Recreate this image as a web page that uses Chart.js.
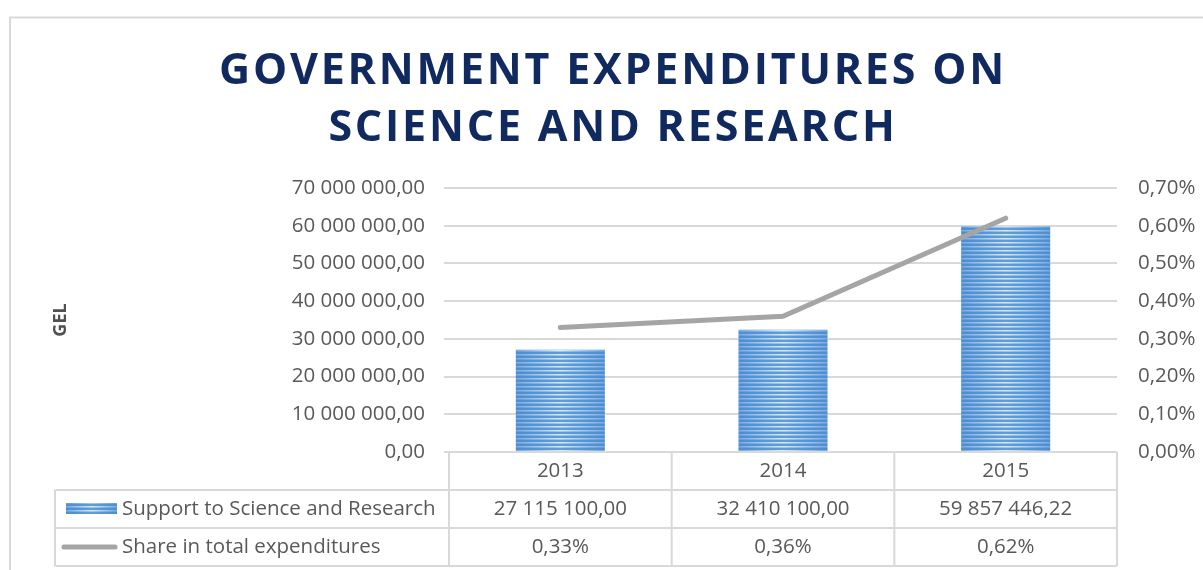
<!DOCTYPE html>
<html>
<head>
<meta charset="utf-8">
<script src="https://cdn.jsdelivr.net/npm/chart.js@4/dist/chart.umd.min.js"></script>
<style>
  html, body { margin: 0; padding: 0; background: #fff; }
</style>
</head>
<body>
<canvas id="chart" width="1203" height="570"></canvas>
<script>
// data
const years = ['2013', '2014', '2015'];
const support = [27115100.00, 32410100.00, 59857446.22];
const share = [0.33, 0.36, 0.62];
const seriesNames = ['Support to Science and Research', 'Share in total expenditures'];
const titleLines = ['GOVERNMENT EXPENDITURES ON', 'SCIENCE AND RESEARCH'];

const textColor = '#595959';
const gridColor = '#d9d9d9';
const fontFamily = '"Open Sans", "Liberation Sans", sans-serif';

function fmtGel(v) {
    const parts = Number(v).toFixed(2).split('.');
    return parts[0].replace(/\B(?=(\d{3})+(?!\d))/g, ' ') + ',' + parts[1];
}
function fmtPct(v) {
    return Number(v).toFixed(2).replace('.', ',') + '%';
}

// striped fill like the excel bars, lighter in the middle
function stripePattern(ctx, w, left) {
    const c = document.createElement('canvas');
    c.width = Math.max(1, Math.round(w));
    c.height = 4;
    const g = c.getContext('2d');
    for (let px = 0; px < c.width; px++) {
        const t = Math.min(1, Math.abs(px + 0.5 - c.width / 2) / (c.width / 2));
        const mix = (a, b) => Math.round(a + (b - a) * t);
        g.fillStyle = 'rgb(' + mix(95, 78) + ',' + mix(158, 142) + ',' + mix(216, 208) + ')';
        g.fillRect(px, 0, 1, 2);
        g.fillStyle = 'rgb(' + mix(218, 120) + ',' + mix(234, 170) + ',' + mix(249, 224) + ')';
        g.fillRect(px, 2, 1, 1);
        g.fillStyle = 'rgb(' + mix(160, 100) + ',' + mix(198, 156) + ',' + mix(238, 216) + ')';
        g.fillRect(px, 3, 1, 1);
    }
    const p = ctx.createPattern(c, 'repeat');
    p.setTransform(new DOMMatrix([1, 0, 0, 1, left, 0]));
    return p;
}

function barFill(context) {
    const chart = context.chart;
    const xs = chart.scales && chart.scales.x;
    if (!xs || !chart.chartArea || context.dataIndex === undefined) return '#7fb0e0';
    const cw = chart.chartArea.width / years.length;
    const w = cw * 0.8 * 0.5;
    const left = xs.getPixelForValue(context.dataIndex) - w / 2;
    return stripePattern(chart.ctx, w, left);
}

const framePlugin = {
    id: 'frame',
    beforeDraw(chart) {
        const ctx = chart.ctx;
        ctx.save();
        ctx.fillStyle = '#fff';
        ctx.fillRect(0, 0, chart.width, chart.height);
        ctx.strokeStyle = '#d9d9d9';
        ctx.lineWidth = 2;
        ctx.strokeRect(10, 17.5, chart.width + 50, chart.height + 50);

        // spaced-out title, centred over the frame
        ctx.fillStyle = '#10295e';
        ctx.font = 'bold 43px ' + fontFamily;
        ctx.textAlign = 'center';
        ctx.textBaseline = 'middle';
        if ('letterSpacing' in ctx) ctx.letterSpacing = '2.8px';
        ctx.fillText(titleLines[0], 613, 72);
        ctx.fillText(titleLines[1], 613, 129);
        ctx.restore();
    }
};

// excel style data table under the plot
const tablePlugin = {
    id: 'dataTable',
    afterDraw(chart) {
        const ctx = chart.ctx;
        const area = chart.chartArea;
        const xs = chart.scales.x;
        const cw = area.width / years.length;
        const rowH = 38;
        const top = area.bottom;
        const labelLeft = 55;

        ctx.save();
        ctx.strokeStyle = gridColor;
        ctx.lineWidth = 2;
        ctx.beginPath();
        ctx.moveTo(area.left, top); ctx.lineTo(area.right, top);
        for (let r = 1; r <= 3; r++) {
            ctx.moveTo(labelLeft, top + r * rowH);
            ctx.lineTo(area.right, top + r * rowH);
        }
        ctx.moveTo(labelLeft, top + rowH); ctx.lineTo(labelLeft, top + 3 * rowH);
        for (let i = 0; i <= years.length; i++) {
            const x = area.left + i * cw;
            ctx.moveTo(x, top); ctx.lineTo(x, top + 3 * rowH);
        }
        ctx.stroke();

        ctx.fillStyle = textColor;
        ctx.font = '20.5px ' + fontFamily;
        ctx.textBaseline = 'middle';
        ctx.textAlign = 'center';
        years.forEach((y, i) => {
            const cx = xs.getPixelForValue(i);
            ctx.fillText(y, cx, top + rowH / 2);
            ctx.fillText(fmtGel(support[i]), cx, top + rowH * 1.5);
            ctx.fillText(fmtPct(share[i]), cx, top + rowH * 2.5);
        });

        ctx.textAlign = 'left';
        ctx.fillText(seriesNames[0], 122, top + rowH * 1.5);
        ctx.fillText(seriesNames[1], 122, top + rowH * 2.5);

        // legend keys
        ctx.fillStyle = stripePattern(ctx, 51, 66);
        ctx.fillRect(66, top + rowH * 1.5 - 6, 51, 11);
        ctx.strokeStyle = '#a5a5a5';
        ctx.lineWidth = 5;
        ctx.lineCap = 'round';
        ctx.beginPath();
        ctx.moveTo(64, top + rowH * 2.5);
        ctx.lineTo(115, top + rowH * 2.5);
        ctx.stroke();
        ctx.restore();
    }
};

new Chart(document.getElementById('chart'), {
    data: {
        labels: years,
        datasets: [
            {
                type: 'line',
                label: seriesNames[1],
                data: share,
                yAxisID: 'y1',
                borderColor: '#a5a5a5',
                borderWidth: 5,
                borderCapStyle: 'round',
                pointRadius: 0,
                tension: 0,
                order: 0
            },
            {
                type: 'bar',
                label: seriesNames[0],
                data: support,
                yAxisID: 'y',
                backgroundColor: barFill,
                categoryPercentage: 0.8,
                barPercentage: 0.5,
                order: 1
            }
        ]
    },
    options: {
        responsive: false,
        animation: false,
        events: [],
        layout: { padding: { left: 22, right: 0, top: 188, bottom: 118 } },
        plugins: {
            legend: { display: false },
            tooltip: { enabled: false },
            title: { display: false }
        },
        scales: {
            x: {
                type: 'category',
                display: false,
                offset: true
            },
            y: {
                position: 'left',
                min: 0,
                max: 70000000,
                ticks: {
                    stepSize: 10000000,
                    callback: v => fmtGel(v),
                    color: textColor,
                    font: { family: fontFamily, size: 20.5 },
                    padding: 19
                },
                grid: { color: gridColor, lineWidth: 2, tickLength: 5 },
                border: { display: false },
                title: {
                    display: true,
                    text: 'GEL',
                    color: '#505050',
                    font: { family: fontFamily, size: 18, weight: 'bold' },
                    padding: { top: 28, bottom: 0 }
                },
                afterFit(scale) { scale.width = 427; }
            },
            y1: {
                position: 'right',
                min: 0,
                max: 0.7,
                ticks: {
                    stepSize: 0.1,
                    callback: v => fmtPct(v),
                    color: textColor,
                    font: { family: fontFamily, size: 20.5 },
                    padding: 21
                },
                grid: { drawOnChartArea: false, drawTicks: false },
                border: { display: false },
                afterFit(scale) { scale.width = 86; }
            }
        }
    },
    plugins: [framePlugin, tablePlugin]
});
</script>
</body>
</html>
